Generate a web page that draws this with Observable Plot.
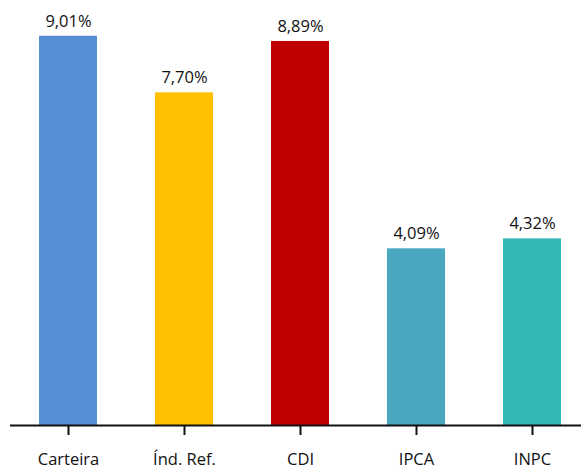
<!DOCTYPE html>
<html>
<head>
<meta charset="utf-8">
<script src="https://cdn.jsdelivr.net/npm/d3@7"></script>
<script src="https://cdn.jsdelivr.net/npm/@observablehq/plot@0.6"></script>
<style>
  html, body { margin: 0; padding: 0; background: #fff; }
  svg { display: block; }
</style>
</head>
<body>
<div id="chart"></div>
<script>
const categories = ["Carteira", "Índ. Ref.", "CDI", "IPCA", "INPC"];
const values = [9.01, 7.70, 8.89, 4.09, 4.32];
const colors = ["#558ED5", "#FFC000", "#C00000", "#4BA7BF", "#34B5B6"];

const data = categories.map((c, i) => ({category: c, value: values[i], color: colors[i]}));
const fmt = v => v.toFixed(2).replace(".", ",") + "%";

const chart = Plot.plot({
  width: 581,
  height: 470,
  marginLeft: 10,
  marginRight: 0,
  marginTop: 0,
  marginBottom: 45,
  style: {fontFamily: "'Open Sans', sans-serif", fontSize: "16.5px", color: "#111", background: "#fff"},
  x: {domain: categories, range: [9, 590.5], paddingInner: 0.5, paddingOuter: 0.25, label: null},
  y: {domain: [0, 10], range: [425, -7], axis: null},
  marks: [
    Plot.barY(data, {x: "category", y: "value", fill: "color"}),
    Plot.text(data, {x: "category", y: "value", text: d => fmt(d.value), dy: -15, fill: "#111", fontSize: 16.5}),
    Plot.ruleY([0], {stroke: "#111", strokeWidth: 2}),
    Plot.axisX({tickSize: 10, tickPadding: 18, strokeWidth: 2, stroke: "#111", fontSize: 16.5, fill: "#111", label: null})
  ]
});
document.getElementById("chart").appendChild(chart);
</script>
</body>
</html>
